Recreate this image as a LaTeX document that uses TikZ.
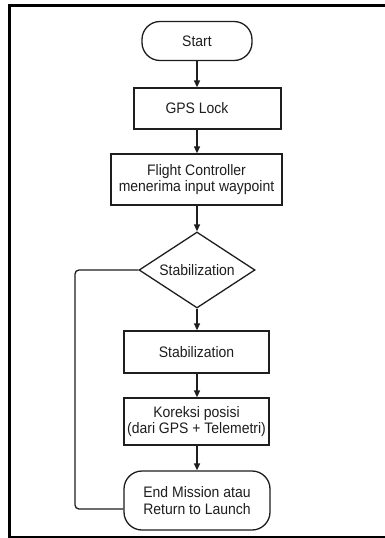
\documentclass[tikz,border=0pt]{standalone}
\usepackage{fontspec}
\setmainfont[FakeStretch=0.92]{Liberation Sans}
\usetikzlibrary{shapes.geometric,arrows.meta}
\definecolor{ink}{HTML}{1E1E1E}
\tikzset{
  lbl/.style={text=ink, font=\fontsize{15.2}{16.8}\selectfont},
  box/.style={lbl, draw=ink, line width=1.3pt, fill=white, align=center, inner sep=0pt},
  term/.style={box, rounded corners=18pt},
  decision/.style={box, diamond, aspect=1.53},
  flow/.style={draw=ink, line width=1.3pt, -{Triangle[length=7pt,width=6pt]}},
  back/.style={draw=ink, line width=1.3pt, rounded corners=4pt},
}
\begin{document}
\begin{tikzpicture}[x=1pt,y=-1pt]
  \useasboundingbox (0,0) rectangle (385,538);
  \fill[white] (0,0) rectangle (385,538);
  % frame (right side runs off the page)
  \draw[black, line width=3pt] (392,5) -- (9.7,5) -- (9.7,537) -- (392,537);

  \node[term, minimum width=110pt, minimum height=39pt] (start) at (197,41) {Start};
  \node[box, minimum width=147pt, minimum height=41pt,
        label={[lbl, xshift=-10.5pt]center:GPS Lock}]
        (gps) at (207.5,108.5) {};
  \node[box, minimum width=171pt, minimum height=51pt] (fc) at (196.5,179.5)
        {Flight Controller\\menerima input waypoint};
  \node[decision, minimum width=116pt, minimum height=76pt] (dec) at (197,270) {Stabilization};
  \node[box, minimum width=145pt, minimum height=42pt] (stab) at (196.5,352) {Stabilization};
  \node[box, minimum width=145pt, minimum height=47pt] (kor) at (196.5,421.5)
        {Koreksi posisi\\(dari GPS + Telemetri)};
  \node[term, minimum width=146pt, minimum height=59pt] (end) at (197,500.5)
        {End Mission atau\\Return to Launch};

  \coordinate (loopin) at ([yshift=-8.5pt]end.west);
  \coordinate (loopx) at (75,0);

  \draw[flow] (start) -- (start |- gps.north);
  \draw[flow] (start |- gps.south) -- (start |- fc.north);
  \draw[flow] (start |- fc.south) -- (dec.north);
  \draw[flow] (dec.south) -- (dec.south |- stab.north);
  \draw[flow] (dec.south |- stab.south) -- (dec.south |- kor.north);
  \draw[flow] (dec.south |- kor.south) -- (end.north);
  \draw[back] (dec.west) -- (loopx |- dec.west) -- (loopx |- loopin) -- (loopin);
\end{tikzpicture}
\end{document}
